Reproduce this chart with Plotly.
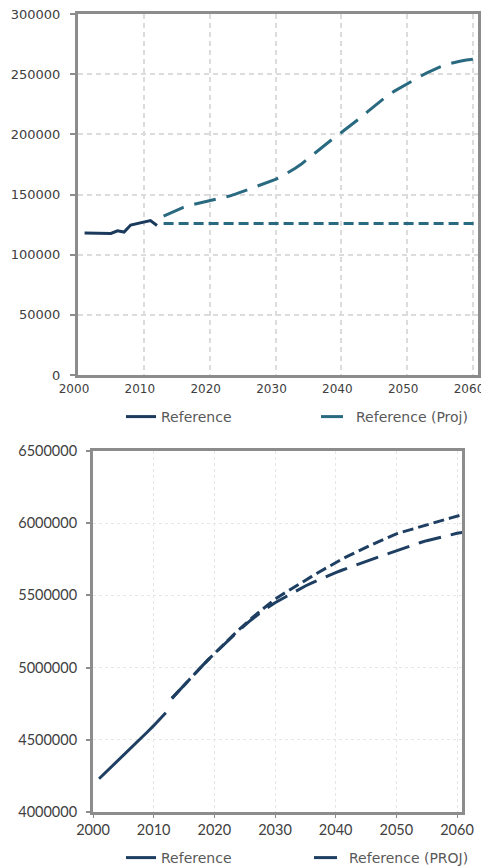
import plotly.graph_objects as go

# ---------------- Data ----------------
hist_years = list(range(2001, 2013))
proj_years = list(range(2013, 2062))

# Top chart
top_reference = [118000, 118000, 118000, 117800, 117600, 119800, 118800, 124600, 125800, 127400, 128300, 124300]
top_proj = [132000, 134500, 137000, 139300, 141000, 142200, 143400, 144600, 145700, 147100, 148700, 150500,
            152500, 154500, 156500, 158500, 160500, 162500, 165200, 168300, 171800, 175600, 180000,
            184600, 189400, 193600, 197600, 201500, 205600, 209800, 214200, 218800, 223400, 228200,
            232200, 235700, 239000, 242000, 245200, 248200, 251000, 253600, 256000, 258100, 259700,
            260800, 261700, 262500, 263000]
top_flat = [126000] * len(proj_years)

# Bottom chart
bot_reference = [4230000, 4270000, 4312000, 4355000, 4395000, 4436000, 4476000, 4516000, 4556000,
                 4598000, 4641000, 4688000]
bot_proj_short = [4787000, 4833000, 4879000, 4924000, 4968000, 5012000, 5055000, 5098000, 5139000,
                  5180000, 5220000, 5260000, 5300000, 5336000, 5372000, 5407000, 5441000, 5474000,
                  5501000, 5528000, 5554000, 5580000, 5605000, 5630000, 5655000, 5680000, 5704000,
                  5728000, 5750000, 5772000, 5793000, 5813000, 5833000, 5852000, 5871000, 5890000,
                  5908000, 5926000, 5939000, 5952000, 5965000, 5977000, 5989000, 6001000, 6013000,
                  6025000, 6037000, 6049000, 6061000]
bot_proj_long = [4787000, 4833000, 4879000, 4924000, 4968000, 5012000, 5055000, 5097000, 5137000,
                 5177000, 5216000, 5255000, 5295000, 5328000, 5361000, 5393000, 5421000, 5449000,
                 5473000, 5497000, 5520000, 5543000, 5565000, 5585000, 5604000, 5623000, 5641000,
                 5658000, 5674000, 5690000, 5705000, 5720000, 5735000, 5750000, 5765000, 5780000,
                 5795000, 5810000, 5824000, 5838000, 5852000, 5866000, 5879000, 5890000, 5900000,
                 5910000, 5920000, 5930000, 5937000]

# ---------------- Styles ----------------
NAVY_TOP = "#1b3a5c"
TEAL = "#2a6a80"
NAVY_BOT = "#1e3f62"
AXIS_GREY = "#8c8c8c"
OFF = 8                      # page body margin
W, H = 489 - OFF, 867 - OFF  # figure size inside the window


def fx(px):
    return (px - OFF) / W


def fy(py):
    return 1 - (py - OFF) / H


fig = go.Figure()

fig.add_trace(go.Scatter(x=hist_years, y=top_reference, mode="lines", name="Reference",
                         line=dict(color=NAVY_TOP, width=3), xaxis="x", yaxis="y", legend="legend"))
fig.add_trace(go.Scatter(x=proj_years, y=top_proj, mode="lines", name="Reference (Proj)",
                         line=dict(color=TEAL, width=3, dash="22px,11px"), xaxis="x", yaxis="y",
                         legend="legend"))
fig.add_trace(go.Scatter(x=proj_years, y=top_flat, mode="lines", name="Reference (Proj) flat",
                         line=dict(color=TEAL, width=3, dash="10px,5px"), xaxis="x", yaxis="y",
                         showlegend=False))

fig.add_trace(go.Scatter(x=hist_years, y=bot_reference, mode="lines", name="Reference",
                         line=dict(color=NAVY_BOT, width=3), xaxis="x2", yaxis="y2", legend="legend2"))
fig.add_trace(go.Scatter(x=proj_years, y=bot_proj_long, mode="lines", name="Reference (PROJ)",
                         line=dict(color=NAVY_BOT, width=3, dash="23px,10px"), xaxis="x2", yaxis="y2",
                         legend="legend2"))
fig.add_trace(go.Scatter(x=proj_years, y=bot_proj_short, mode="lines", name="Reference (PROJ) alt",
                         line=dict(color=NAVY_BOT, width=3, dash="11px,5px"), xaxis="x2", yaxis="y2",
                         showlegend=False))

top_font = dict(family="DejaVu Sans", size=13, color="#404040")
top_xfont = dict(family="DejaVu Sans", size=12, color="#404040")
bot_font = dict(family="Lato", size=14.5, color="#404040")

common_axis = dict(showline=True, linecolor=AXIS_GREY, linewidth=3, mirror=True, zeroline=False,
                   automargin=False, ticklabeloverflow="allow")

fig.update_layout(
    template="none",
    width=W, height=H,
    margin=dict(l=0, r=0, t=0, b=0, autoexpand=False),
    paper_bgcolor="white", plot_bgcolor="white",
    xaxis=dict(domain=[fx(78), fx(478)], anchor="y", range=[2000, 2060.76], tick0=2000, dtick=10,
               tickformat="d", showgrid=True, gridcolor="#dcdcdc", griddash="5px,4px", gridwidth=1.5,
               tickfont=top_xfont, ticks="outside", ticklen=1, tickcolor="rgba(0,0,0,0)",
               ticklabelshift=-4, **common_axis),
    yaxis=dict(domain=[fy(375), fy(14)], anchor="x", range=[0, 300000], tick0=0, dtick=50000,
               tickformat="d", showgrid=True, gridcolor="#dcdcdc", griddash="5px,4px", gridwidth=1.5,
               tickfont=top_font, ticks="outside", ticklen=5, tickcolor=AXIS_GREY, tickwidth=2,
               ticklabelstandoff=7, **common_axis),
    xaxis2=dict(domain=[fx(93), fx(462)], anchor="y2", range=[2000, 2060.82], tick0=2000, dtick=10,
                tickformat="d", showgrid=True, gridcolor="#e6e6e6", griddash="3px,3px", gridwidth=1,
                tickfont=bot_font, ticks="outside", ticklen=3, tickcolor=AXIS_GREY, tickwidth=1,
                **common_axis),
    yaxis2=dict(domain=[fy(812), fy(451)], anchor="x2", range=[4000000, 6500000], tick0=4000000,
                dtick=500000, tickformat="d", showgrid=True, gridcolor="#e6e6e6", griddash="3px,3px",
                gridwidth=1, tickfont=bot_font, ticks="outside", ticklen=4, tickcolor=AXIS_GREY,
                tickwidth=1.5, ticklabelstandoff=6, **common_axis),
    legend=dict(orientation="h", x=fx(121), xanchor="left", y=fy(417), yanchor="middle",
                font=dict(family="DejaVu Sans", size=14, color="#595959"), entrywidth=150,
                bgcolor="rgba(0,0,0,0)", tracegroupgap=0),
    legend2=dict(orientation="h", x=fx(121), xanchor="left", y=fy(858), yanchor="middle",
                 font=dict(family="DejaVu Sans", size=14, color="#595959"), entrywidth=143,
                 bgcolor="rgba(0,0,0,0)", tracegroupgap=0),
)

fig.write_html("out.html")
